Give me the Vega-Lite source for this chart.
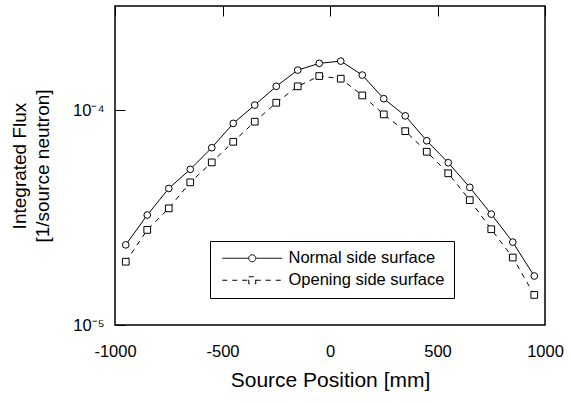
{
  "$schema": "https://vega.github.io/schema/vega-lite/v6.json",
  "width": 430,
  "height": 319,
  "autosize": {"type": "none"},
  "padding": {"left": 115, "top": 6, "right": 26, "bottom": 78},
  "background": "white",
  "config": {
    "font": "Liberation Sans",
    "view": {"stroke": "black", "strokeWidth": 1.5},
    "axis": {
      "domain": false,
      "ticks": false,
      "tickSize": 0,
      "grid": true,
      "gridColor": "black",
      "gridWidth": 1,
      "gridOpacity": 1,
      "labelColor": "black",
      "labelFontSize": 16.5,
      "labelFlush": false,
      "labelOverlap": false,
      "titleColor": "black",
      "titleFontSize": 20,
      "titleFontWeight": "normal"
    },
    "legend": {
      "labelFontSize": 16.5,
      "labelColor": "black"
    }
  },
  "data": {
    "values": [
      {"x": -950, "flux": 2.36e-5, "series": "Normal side surface"},
      {"x": -850, "flux": 3.25e-5, "series": "Normal side surface"},
      {"x": -750, "flux": 4.32e-5, "series": "Normal side surface"},
      {"x": -650, "flux": 5.30e-5, "series": "Normal side surface"},
      {"x": -550, "flux": 6.68e-5, "series": "Normal side surface"},
      {"x": -450, "flux": 8.67e-5, "series": "Normal side surface"},
      {"x": -350, "flux": 1.055e-4, "series": "Normal side surface"},
      {"x": -250, "flux": 1.29e-4, "series": "Normal side surface"},
      {"x": -150, "flux": 1.535e-4, "series": "Normal side surface"},
      {"x": -50, "flux": 1.65e-4, "series": "Normal side surface"},
      {"x": 50, "flux": 1.69e-4, "series": "Normal side surface"},
      {"x": 150, "flux": 1.455e-4, "series": "Normal side surface"},
      {"x": 250, "flux": 1.13e-4, "series": "Normal side surface"},
      {"x": 350, "flux": 9.4e-5, "series": "Normal side surface"},
      {"x": 450, "flux": 7.2e-5, "series": "Normal side surface"},
      {"x": 550, "flux": 5.69e-5, "series": "Normal side surface"},
      {"x": 650, "flux": 4.37e-5, "series": "Normal side surface"},
      {"x": 750, "flux": 3.28e-5, "series": "Normal side surface"},
      {"x": 850, "flux": 2.43e-5, "series": "Normal side surface"},
      {"x": 950, "flux": 1.69e-5, "series": "Normal side surface"},
      {"x": -950, "flux": 1.97e-5, "series": "Opening side surface"},
      {"x": -850, "flux": 2.77e-5, "series": "Opening side surface"},
      {"x": -750, "flux": 3.49e-5, "series": "Opening side surface"},
      {"x": -650, "flux": 4.61e-5, "series": "Opening side surface"},
      {"x": -550, "flux": 5.71e-5, "series": "Opening side surface"},
      {"x": -450, "flux": 7.12e-5, "series": "Opening side surface"},
      {"x": -350, "flux": 8.83e-5, "series": "Opening side surface"},
      {"x": -250, "flux": 1.082e-4, "series": "Opening side surface"},
      {"x": -150, "flux": 1.29e-4, "series": "Opening side surface"},
      {"x": -50, "flux": 1.44e-4, "series": "Opening side surface"},
      {"x": 50, "flux": 1.40e-4, "series": "Opening side surface"},
      {"x": 150, "flux": 1.17e-4, "series": "Opening side surface"},
      {"x": 250, "flux": 9.55e-5, "series": "Opening side surface"},
      {"x": 350, "flux": 7.98e-5, "series": "Opening side surface"},
      {"x": 450, "flux": 6.40e-5, "series": "Opening side surface"},
      {"x": 550, "flux": 5.08e-5, "series": "Opening side surface"},
      {"x": 650, "flux": 3.81e-5, "series": "Opening side surface"},
      {"x": 750, "flux": 2.79e-5, "series": "Opening side surface"},
      {"x": 850, "flux": 2.06e-5, "series": "Opening side surface"},
      {"x": 950, "flux": 1.38e-5, "series": "Opening side surface"}
    ]
  },
  "layer": [
    {
      "transform": [{"filter": "datum.series == 'Normal side surface'"}],
      "mark": {"type": "line", "color": "black", "strokeWidth": 1},
      "encoding": {
        "x": {
          "field": "x", "type": "quantitative",
          "scale": {"domain": [-1000, 1000], "nice": false, "zero": false},
          "axis": {
            "orient": "bottom",
            "title": "Source Position [mm]",
            "titleFontSize": 21,
            "titlePadding": 10,
            "values": [-1000, -500, 0, 500, 1000],
            "labelExpr": "toString(datum.value)",
            "gridDash": [10, 1000],
            "labelPadding": 18
          }
        },
        "y": {
          "field": "flux", "type": "quantitative",
          "scale": {"type": "log", "domain": [1e-5, 3.05e-4], "nice": false},
          "axis": {
            "orient": "left",
            "title": ["Integrated Flux", "[1/source neutron]"],
            "titleFontSize": 19,
            "titlePadding": 20,
            "titleLineHeight": 23,
            "values": [1e-5, 1e-4],
            "labelExpr": "datum.value > 5e-5 ? '10⁻⁴' : '10⁻⁵'",
            "gridDash": [10, 1000],
            "labelPadding": 11
          }
        }
      }
    },
    {
      "transform": [{"filter": "datum.series == 'Opening side surface'"}],
      "mark": {"type": "line", "color": "black", "strokeWidth": 1, "strokeDash": [5, 5]},
      "encoding": {
        "x": {
          "field": "x", "type": "quantitative",
          "axis": {
            "orient": "top", "title": null, "labels": false,
            "values": [-1000, -500, 0, 500, 1000],
            "gridDash": [10, 1000]
          }
        },
        "y": {
          "field": "flux", "type": "quantitative",
          "axis": {
            "orient": "right", "title": null, "labels": false,
            "values": [1e-5, 1e-4],
            "gridDash": [10, 1000]
          }
        }
      }
    },
    {
      "transform": [{"filter": "datum.series == 'Normal side surface'"}],
      "mark": {"type": "point", "shape": "circle", "size": 45, "fill": "white", "stroke": "black", "strokeWidth": 1, "opacity": 1},
      "encoding": {
        "x": {
          "field": "x", "type": "quantitative",
          "axis": {
            "orient": "bottom", "title": null, "labels": false,
            "values": [-900, -800, -700, -600, -400, -300, -200, -100, 100, 200, 300, 400, 600, 700, 800, 900],
            "gridDash": [5, 1000]
          }
        },
        "y": {
          "field": "flux", "type": "quantitative",
          "axis": {
            "orient": "left", "title": null, "labels": false,
            "values": [2e-5, 3e-5, 4e-5, 5e-5, 6e-5, 7e-5, 8e-5, 9e-5, 2e-4, 3e-4],
            "gridDash": [5, 1000]
          }
        }
      }
    },
    {
      "transform": [{"filter": "datum.series == 'Opening side surface'"}],
      "mark": {"type": "point", "shape": "square", "size": 45, "fill": "white", "stroke": "black", "strokeWidth": 1, "opacity": 1},
      "encoding": {
        "x": {
          "field": "x", "type": "quantitative",
          "axis": {
            "orient": "top", "title": null, "labels": false,
            "values": [-900, -800, -700, -600, -400, -300, -200, -100, 100, 200, 300, 400, 600, 700, 800, 900],
            "gridDash": [5, 1000]
          }
        },
        "y": {
          "field": "flux", "type": "quantitative",
          "axis": {
            "orient": "right", "title": null, "labels": false,
            "values": [2e-5, 3e-5, 4e-5, 5e-5, 6e-5, 7e-5, 8e-5, 9e-5, 2e-4, 3e-4],
            "gridDash": [5, 1000]
          }
        }
      }
    },
    {
      "transform": [{"filter": "datum.x > 5000"}],
      "mark": {"type": "point", "filled": false, "color": "black", "strokeWidth": 1, "opacity": 1},
      "encoding": {
        "x": {"field": "x", "type": "quantitative", "axis": null},
        "y": {"field": "flux", "type": "quantitative", "axis": null},
        "shape": {
          "field": "series", "type": "nominal",
          "scale": {
            "domain": ["Normal side surface", "Opening side surface"],
            "range": [
              "M-1,0L4.3,0M5.7,0L11,0M4.3,0A0.7,0.7,0,1,1,5.7,0A0.7,0.7,0,1,1,4.3,0Z",
              "M-1,0L4.3,0M5.7,0L11,0M4.3,-0.7L5.7,-0.7L5.7,0.7L4.3,0.7Z"
            ]
          },
          "legend": {
            "title": null,
            "orient": "none",
            "legendX": 95,
            "legendY": 235,
            "padding": 9,
            "strokeColor": "black",
            "fillColor": "white",
            "symbolSize": 100,
            "symbolStrokeWidth": 1,
            "symbolStrokeColor": "black",
            "symbolOpacity": 1,
            "labelOffset": 53,
            "labelLimit": 400,
            "rowPadding": 5,
            "zindex": 10,
            "encode": {
              "symbols": {
                "update": {
                  "stroke": {"value": "black"},
                  "fill": {"value": "transparent"},
                  "strokeWidth": {"value": 1},
                  "opacity": {"value": 1}
                }
              }
            }
          }
        },
        "strokeDash": {
          "field": "series", "type": "nominal",
          "scale": {
            "domain": ["Normal side surface", "Opening side surface"],
            "range": [[1, 0], [5, 5]]
          }
        },
        "size": {"value": 100}
      }
    }
  ],
  "resolve": {"axis": {"x": "independent", "y": "independent"}}
}
